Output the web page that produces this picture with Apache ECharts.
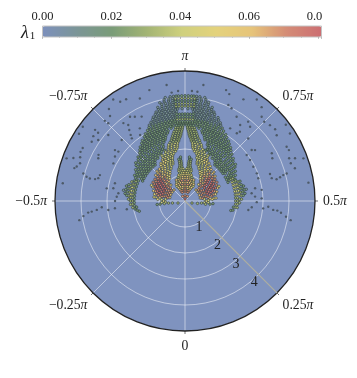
<!DOCTYPE html>
<html><head><meta charset="utf-8">
<style>html,body{margin:0;padding:0;background:#fff}#c{width:357px;height:378px}</style>
<script src="https://cdn.jsdelivr.net/npm/echarts@6/dist/echarts.min.js"></script>
</head><body><div id="c"></div>
<script>
// colour scale (lambda_1)
const scaleTicks = [0, 0.02, 0.04, 0.06, 0.08];
const scaleColors = ['#7c90bc','#7b9596','#7a9c78','#a3b474','#cfd07e','#e4d27c','#e6c47a','#d48c76','#cc6e72'];
const radiusRings = [1, 2, 3, 4];
const angleTicks = [0.25, 0.5, 0.75, 1, -0.75, -0.5, -0.25, 0];

// rows are [radius, lambda in 0.01, [|theta| in 0.01 pi]]
const wingLeft = [
 [.6,6,[57,63,69,75]],
 [.675,7,[56,61,66,71]],
 [.75,7,[58,63,68,73]],[.75,4,[48,53]],
 [.825,7,[57,62,67,72]],[.825,5,[50,77]],
 [.9,8,[60,64,68]],[.9,7,[56,72,76]],[.9,4,[48,52]],
 [.975,8,[58,62,66,70]],[.975,6,[54,74,78]],
 [1.05,8,[60,63.5,67,70.5]],[1.05,7,[56.5,74,77.5]],[1.05,5,[52,81]],
 [1.125,8,[61,64.5,68,71.5]],[1.125,7,[58,75]],[1.125,5,[54,79,82]],
 [1.2,8,[63,66,69,72]],[1.2,7,[60,75,78]],[1.2,5,[54,57,81,84]],
 [1.275,8,[64,67,70,73]],[1.275,6,[60,76,79]],[1.275,5,[82,85]],
 [1.35,7,[66,69,72,75]],[1.35,6,[63,78,81]],[1.35,4,[84,87]],
 [1.425,7,[67,70,73,76]],[1.425,5,[64,79,82]],[1.425,4,[85,88]],
 [1.5,6,[73,75.5,78]],[1.5,5,[80.5,83]],[1.5,4,[85.5,88,90]],
 [1.575,6,[76,78.5]],[1.575,5,[81,83.5]],[1.575,4,[86,88.5,90.5]],
 [1.65,5,[81,83,85]],[1.65,4,[87,89,90.5]],
 [1.725,5,[82,84,86]],[1.725,4,[88,90,91]]
];
const stripLeft = [
 [1.8,5,[84,86]],[1.8,4,[88,90,91.5]],
 [1.875,4,[85,87,89,91,92.5]],
 [1.95,4,[85,87,89,91,93,94]],
 [2.025,4,[88,90,92,94,95]],
 [2.1,4,[90,92,94,95.5]],
 [2.175,4,[90.5,92.3,94,95.7]],
 [2.25,4,[91,92.8,94.6,96]],
 [2.325,3,[92,93.7,95.3,96.7]],
 [2.4,3,[93,94.5,96,97]],
 [2.475,3,[93.5,95,96.3,97.6]],
 [2.55,3,[94,95.3,96.6,98]],
 [2.625,3,[94.5,95.8,97,98.2]],
 [2.7,3,[95,96.2,97.4,98.5]],
 [2.775,3,[95.7,96.7,97.8,98.8]],
 [2.85,3,[96,97,98,99]],
 [2.925,2,[96.5,97.5,98.5,99.3]],
 [3,2,[97,98,99,99.6]]
];
const curtainLeft = [
 [1.8,2,[64,66,68,70,72,74,76,78]],
 [1.875,2,[65,67,69,71,73,75,77,79]],
 [1.95,2,[66,68,70,72,74,76,78,80,82]],
 [2.025,2,[63,65,67,69,71,73,75,77,79,81,83,85]],
 [2.1,2,[62,64,66,68,70,72,74,76,78,80,82,84,86,88]],
 [2.175,2,[65,67,69,71,73,75,77,79,81,83,85,87]],
 [2.25,2,[68,70,72,74,76,78,80,82,84,86,88]],
 [2.325,2,[70,72,74,76,78,80,82,84,86,88]],
 [2.4,2,[71,73,75,77,79,81,83,85,87,89]],
 [2.475,2,[74,75.5,77,78.5,80,81.5,83,84.5,86,87.5,89,90]],
 [2.55,2,[76,77.5,79,80.5,82,83.5,85,86.5,88,89.5,90.5]],
 [2.625,2,[77,78.4,79.8,81.2,82.6,84,85.4,86.8,88.2,89.6,91]],
 [2.7,2,[78,79.4,80.8,82.2,83.6,85,86.4,87.8,89.2,90.6,92]],
 [2.775,2,[79.5,80.8,82,83.3,84.6,85.9,87.2,88.5,89.8,91,92.5]],
 [2.85,2,[80.5,82,83.2,84.4,85.6,86.8,88,89.2,90.6,92,94]],
 [2.925,2,[82,83.2,84.4,85.6,86.8,88,89.2,90.4,91.6,92.8,94,95]],
 [3,2,[83,84.3,85.6,86.9,88.2,89.5,90.8,92.1,93.4,94.7,96]],
 [3.075,2,[84.5,85.7,86.9,88.1,89.3,90.5,91.7,92.9,94.1,95.3,96]],
 [3.15,2,[85.5,87,88.3,89.6,90.9,92.2,93.5,94.8,96]],
 [3.225,1,[86,87.2,88.4,89.6,90.8,92,93.2,94.4,95.6,96.4]],
 [3.3,1,[87,88.2,89.4,90.6,91.8,93,94.2,95.4,96.5]],
 [3.375,1,[88,89.2,90.4,91.6,92.8,94,95.2,96.4]],
 [3.45,1,[88.5,89.7,91,92.2,93.4,94.6,95.8,97]],
 [3.525,1,[89.5,90.7,91.9,93.1,94.3,95.5,96.7]],
 [3.6,1,[90,91.2,92.4,93.6,94.8,96,97]],
 [3.675,1,[91,92.2,93.4,94.6,95.8,97]],
 [3.75,1,[91,92.4,93.8,95,96,97]],
 [3.825,1,[92.5,93.7,94.9,96.1]],
 [3.9,1,[92,93.4,94.8,96,97]],
 [3.975,1,[93.5,95,96.2]],
 [4.05,1,[94,95.5,96.5]]
];
const footLeft = [
 [1.8,2,[43]],[1.875,2,[44,46]],
 [1.95,2,[45,47,49,51,53,55,57,59,61,63]],
 [2.025,3,[46,48,50,52,54,56,58,60,62]],
 [2.1,4,[54,56,58]],[2.1,3,[48,50,52,60]],
 [2.175,3,[51,53,55,57,59,61]],
 [2.25,2,[53,55,57,59]],[2.325,2,[54,56,58]],[2.4,1,[55.5]]
];
const wingRight = [
 [.6,6,[56,62,69,75]],
 [.675,7,[55,61,67,72]],
 [.75,7,[57,63,68,74]],[.75,4,[47,53]],
 [.825,7,[57,62,67,73]],[.825,5,[50,78]],
 [.9,8,[60,64,69]],[.9,7,[55,73,77]],[.9,4,[48,51]],
 [.975,8,[58,62,66,71]],[.975,6,[53,75,79]],
 [1.05,8,[60,64,67,71]],[1.05,7,[56,74,78]],[1.05,5,[52,81]],
 [1.125,8,[61,65,68,72]],[1.125,7,[57,75]],[1.125,5,[53,79,82]],
 [1.2,8,[63,66,69,73]],[1.2,7,[60,76,79]],[1.2,5,[53,57,82,84]],
 [1.275,8,[63,67,70,74]],[1.275,6,[59,77,80]],[1.275,5,[83,85]],
 [1.35,7,[65,69,72,75]],[1.35,6,[62,78,81]],[1.35,4,[84,87]],
 [1.425,7,[67,70,73,77]],[1.425,5,[63,80,82]],[1.425,4,[85,88]],
 [1.5,6,[72,75,78]],[1.5,5,[80,83]],[1.5,4,[85.5,88,90]],
 [1.575,6,[75,78]],[1.575,5,[81,83]],[1.575,4,[86,88,90.5]],
 [1.65,5,[80,83,85]],[1.65,4,[87,89,90.5]],
 [1.725,5,[82,84,86]],[1.725,4,[88,90,91.5]]
];
const stripRight = [
 [1.8,5,[84,86]],[1.8,4,[88,90,91.5]],
 [1.875,4,[85,87,89,91,92.5]],
 [1.95,4,[85,87,89,91,92.5,94]],
 [2.025,4,[88,90,92,93.7,95]],
 [2.1,4,[89.5,92,94,95.5]],
 [2.175,4,[90.5,92,94,95.7]],
 [2.25,4,[91,93,94.6,96]],
 [2.325,3,[92,93.8,95.3,96.7]],
 [2.4,3,[92.5,94.5,96,97]],
 [2.475,3,[93.5,95,96.4,97.6]],
 [2.55,3,[94,95.4,96.6,98]],
 [2.625,3,[94.5,95.7,97,98.2]],
 [2.7,3,[95,96,97.4,98.5]],
 [2.775,3,[95.6,96.7,97.8,98.8]],
 [2.85,3,[96,97,98,99]],
 [2.925,2,[96.5,97.6,98.5,99.3]],
 [3,2,[97,98,99,99.6]]
];
const curtainRight = [
 [1.8,2,[63,65,67,70,72,74,76,78]],
 [1.875,2,[64,66,69,71,73,75,77,79]],
 [1.95,2,[65,67,70,72,74,76,78,80,82]],
 [2.025,2,[64,66,68,70,72,74,76,78,80,82,84,85]],
 [2.1,2,[63,65,67,69,71,73,75,77,79,81,83,85,87,88]],
 [2.175,2,[65,67,69,71,73,75,78,80,82,84,86,87]],
 [2.25,2,[67,69,71,73,75,77,79,81,83,85,87]],
 [2.325,2,[69,71,73,75,77,79,81,83,85,87,88]],
 [2.4,2,[70,72,74,76,78,80,82,84,86,88]],
 [2.475,2,[73,75,76.5,78,79.5,81,82.5,84,85.5,87,88.5,90]],
 [2.55,2,[75,77,78.5,80,81.5,83,84.5,86,87.5,89,90.5]],
 [2.625,2,[76.5,78,79.5,81,82.5,84,85.5,87,88.2,89.6,91]],
 [2.7,2,[77.5,79,80.5,82,83.5,85,86.5,88,89.5,91,92]],
 [2.775,2,[79,80.6,82,83.4,84.8,86,87.2,88.5,89.8,91,92.5]],
 [2.85,2,[80,81.5,83,84.5,85.6,87,88.2,89.4,90.6,92,94]],
 [2.925,2,[81.5,83,84.4,85.6,86.8,88,89.3,90.4,91.7,92.8,94,95]],
 [3,2,[82.5,84,85.5,87,88.2,89.6,90.8,92,93.4,94.8,96]],
 [3.075,2,[84,85.5,86.8,88,89.3,90.6,91.7,92.9,94.2,95.3,96]],
 [3.15,2,[85,86.5,88,89.5,91,92.2,93.4,94.8,96]],
 [3.225,1,[86,87,88.4,89.7,90.8,92,93.3,94.4,95.6,96.4]],
 [3.3,1,[86.5,88,89.4,90.6,92,93,94.2,95.4,96.5]],
 [3.375,1,[87.5,89,90.4,91.7,92.8,94,95.2,96.4]],
 [3.45,1,[88,89.5,91,92.2,93.5,94.6,95.8,97]],
 [3.525,1,[89.5,90.6,91.9,93.2,94.3,95.5,96.7]],
 [3.6,1,[90,91,92.4,93.8,94.8,96,97]],
 [3.675,1,[91,92,93.4,94.7,95.8,97]],
 [3.75,1,[91,92.5,93.8,95,96,97]],
 [3.825,1,[92.5,93.6,94.9,96.2]],
 [3.9,1,[92.5,93.5,94.8,96,97]],
 [3.975,1,[93.5,95,96.3]],
 [4.05,1,[94,95.5,96.5]]
];
const footRight = [
 [1.8,2,[43.5]],[1.875,2,[44,46]],
 [1.95,3,[46,48,50,52,54,64]],[1.95,4,[56,58,60,62]],
 [2.025,3,[46,48,50,52,62,64]],[2.025,4,[54,56,58,60]],
 [2.1,4,[54,56,58,60]],[2.1,3,[49,51,62]],
 [2.175,3,[51,53,55,57,59,61]],
 [2.25,2,[53,55,57,59,61]],[2.325,2,[54,56,58]],[2.4,1,[56]]
];
// central spire and top block: signed theta in 0.01 pi
const spire = [
 [.08,8,[100]],[.2,7,[100,85,-85]],
 [.35,7,[100,90,-90]],
 [.425,7,[100,92,-92,88,-88]],
 [.5,7,[100]],[.5,6,[93,-93]],[.5,5,[87,-87]],
 [.575,6,[100,95,-95,90,-90,85.5,-85.5]],
 [.65,7,[100,94.5,-94.5]],[.65,6,[89,-89]],[.65,4,[84,-84]],
 [.725,6,[100,96,-96,92,-92,88,-88,85,-85]],
 [.8,7,[100,95,-95]],[.8,6,[91,-91]],[.8,4,[87,-87]],
 [.875,6,[100,96.5,-96.5,93,-93,90,-90,87.5,-87.5]],
 [.95,6,[100,96.5,-96.5]],[.95,5,[93.5,-93.5]],[.95,3,[91,-91]],
 [1.025,5,[100,97.5,-97.5,95,-95,92.5,-92.5]],
 [1.1,5,[100,98,-98]],[1.1,4,[96,-96]],[1.1,3,[94,-94]],
 [1.175,4,[99,-99,97,-97,95,-95,93.5,-93.5]],
 [1.25,4,[98,-98,96,-96]],[1.25,3,[94,-94]],
 [1.325,3,[97,-97,95,-95]],
 [1.4,3,[97,-97,95.5,-95.5]],
 [1.475,3,[97,-97,95.5,-95.5]],
 [1.55,3,[96.8,-96.8,95.5,-95.5]],
 [1.625,2,[96.5,-96.5,95.3,-95.3]],
 [1.7,2,[96.8,-96.8]]
];
const tips = [[.28,3,[41,-41]]];
const topBlock = [
 [3.05,2,[100,99,-99,98,-98,97,-97]],[3.15,3,[100,99,-99,98,-98,97,-97]],
 [3.25,2,[100,99,-99,98,-98,97,-97]],[3.35,2,[100,99,-99,98,-98,97,-97]],
 [3.55,1,[99,-99,97.5,-97.5]],
 [3.65,3,[100,99,-99,98,-98,97,-97]],[3.75,3,[100,99,-99,98,-98,97,-97]],
 [3.85,2,[100,99,-99,98,-98,97,-97]],[3.95,3,[100,99,-99,98,-98,97,-97]],
 [4.05,2,[100,99,-99,98,-98,97.3,-97.3]]
];
const tailLeft = [[.49,3,[45]],[.64,3,[46]],[.8,3,[46]],[.97,2,[46]],[1.08,2,[46]]];
const tailRight = [[.49,3,[44]],[.64,3,[46]],[.8,3,[45]],[.97,2,[46]],[1.08,2,[47]]];
// isolated dots: [radius, theta in 0.01 pi]
const sparseLeft = [[4.59,-78],[4.78,-80.4],[4.52,-83.3],[4.31,-86.8],[4.48,-90.1],[4.36,-77],[4.36,-75],[4.2,-75.2],[4.86,-70],[4.83,-68],[4.41,-71.3],[4.32,-69.6],[4.25,-71.2],[4.08,-69.5],[4.25,-68],[4.43,-65.2],[4.44,-64],[4.84,-61],[4.6,-61.7],[4.37,-62.6],[4.29,-61],[4.37,-59.8],[4.44,-59.2],[3.77,-65.6],[3.72,-64.6],[4.75,-54.6],[4.05,-58.4],[3.9,-57.7],[3.76,-57.4],[3.56,-57.6],[3.45,-58.2],[3.42,-59.4],[3.33,-70],[3.19,-70.3],[3.19,-68],[3.11,-65.4],[3.05,-55.1],[2.8,-55.6],[2.78,-57.9],[2.58,-53.7],[2.63,-52],[2.69,-50],[3.95,-45.3],[4.13,-44.3],[3.75,-46.2],[3.61,-46.4],[3.41,-46.8],[3.21,-47.6],[2.97,-46.3],[2.71,-46.7],[2.26,-45.5],[3.65,-79.6],[3.47,-78.8],[3.29,-78.1],[3.16,-77.6],[3.87,-81.6],[3.77,-82.9],[3.65,-84.9],[3.29,-82.3],[3.07,-81],[3.38,-74.4],[3.82,-78.7],[3.89,-72.6],[4.56,-81.6],[4.52,-95],[4.2,-96.1],[4.24,-98]];
const sparseRight = [[4.55,88.7],[4.45,87.5],[4.51,83.4],[4.78,80.4],[4.05,86.5],[3.99,85.2],[3.8,82.5],[3.9,78.6],[3.8,77.1],[4.66,78.2],[4.38,76.5],[4.31,75],[4.38,73.2],[4.43,71.4],[4.34,69.8],[4.86,70.6],[4.8,68.2],[4.43,65.6],[4.45,64.5],[3.81,66],[3.74,64.5],[4.84,61],[4.54,61.8],[4.33,62.4],[4.32,60.9],[4.41,59.2],[4.8,54.7],[3.43,59.8],[3.45,58.2],[3.62,57.4],[3.77,57.8],[3.91,58.2],[4.05,58.4],[3.23,70.8],[3.33,70],[2.96,70.4],[2.96,67.9],[2.94,64.8],[2.96,61.7],[2.95,59.6],[3.42,74.8],[3.61,80],[3.4,78.7],[3.28,79.2],[3.29,82.3],[2.74,55.7],[2.58,53.7],[2.7,52],[2.98,54.6],[2.95,51.1],[2.76,49.5],[3.02,47],[3.21,47.8],[3.41,46.8],[3.57,46.7],[3.72,46.1],[3.93,45.1],[4.13,44.3],[2.46,45.5],[2.58,47],[4.52,95],[4.24,98],[4.23,96.4]];
const sparseLambda = 0.008;

const wrap = t => { const v = t / 100; return v < 0.25 ? v + 2 : v; };
const densePoints = [], sparsePoints = [];
const addRows = (rows, sign) => rows.forEach(([r, l, ts]) => ts.forEach(t => densePoints.push([r, wrap(sign * t), l / 100])));
const addDots = dots => dots.forEach(([r, t]) => sparsePoints.push([r, wrap(t), sparseLambda]));
addDots(sparseLeft); addDots(sparseRight);
[curtainLeft, footLeft, stripLeft, wingLeft, tailLeft].forEach(g => addRows(g, -1));
[curtainRight, footRight, stripRight, wingRight, tailRight].forEach(g => addRows(g, 1));
addRows(topBlock, 1); addRows(spire, 1); addRows(tips, 1);

const serif = '"Liberation Serif", "Times New Roman", serif';
const ringLine = 'rgba(255,255,255,0.5)';
const angleLabel = raw => {
  const v = parseFloat(raw.toFixed(2));
  const a = v > 1 ? v - 2 : v;
  if (a === 0) return '{n|0}';
  if (a === 1) return '{p|π}';
  return '{n|' + (a < 0 ? '\u2212' : '') + Math.abs(a) + '}{p|π}';
};
const chart = echarts.init(document.getElementById('c'), null, {renderer: 'canvas'});
chart.setOption({
  animation: false,
  backgroundColor: '#fff',
  graphic: [{type: 'circle', z: -10, silent: true, shape: {cx: 185, cy: 201, r: 130}, style: {fill: '#7f93bf'}}],
  title: {text: '{a|λ}{b|1}', left: 21, top: 24, padding: 0, textStyle: {fontWeight: 'normal', rich: {
    a: {fontFamily: serif, fontStyle: 'italic', fontWeight: 'normal', fontSize: 18, color: '#222'},
    b: {fontFamily: serif, fontWeight: 'normal', fontSize: 11, color: '#222', verticalAlign: 'bottom', padding: [7,0,0,1]}}}},
  grid: {left: 42.5, width: 279, top: 26, height: 11, show: true, borderColor: '#c4c4c4', borderWidth: 1, backgroundColor: 'transparent', z: 6},
  xAxis: {type: 'value', position: 'top', min: 0, max: 0.081, interval: 0.02, z: 6,
    axisLine: {show: false},
    axisTick: {inside: true, length: 2, lineStyle: {color: '#888', width: 0.5}},
    minorTick: {show: true, splitNumber: 4, length: 1, lineStyle: {color: '#aaa', width: 0.5}},
    splitLine: {show: false},
    axisLabel: {margin: 3, hideOverlap: false, fontFamily: serif, fontSize: 12.5, color: '#222',
      formatter: v => Math.abs(v - 0.08) < 1e-6 ? '{c|0.0}' : (v > 0.0805 ? '' : v.toFixed(2)),
      rich: {c: {fontFamily: serif, fontSize: 12.5, color: '#222', padding: [0,7,0,0]}}}},
  yAxis: {type: 'value', show: false, min: 0, max: 1},
  visualMap: {type: 'continuous', show: true, orient: 'horizontal', left: 42.5, top: 26, itemWidth: 11, itemHeight: 279,
    padding: 0, min: 0, max: 0.081, dimension: 2, seriesIndex: 0, calculable: false, hoverLink: false, showLabel: false,
    text: null, inRange: {color: scaleColors}},
  polar: {center: [185, 201], radius: 130},
  angleAxis: {type: 'value', startAngle: -45, clockwise: false, min: 0.25, max: 2.25, interval: 0.25,
    axisLine: {lineStyle: {color: '#222', width: 1.3}},
    axisTick: {show: true, length: 3, lineStyle: {color: '#333', width: 0.7}},
    splitLine: {show: true, lineStyle: {color: ['rgba(0,0,0,0)', ringLine, ringLine, ringLine, ringLine, ringLine, ringLine, ringLine], width: 1}},
    axisLabel: {margin: 8, formatter: angleLabel, rich: {
      n: {fontFamily: serif, fontSize: 13.7, color: '#222'},
      p: {fontFamily: serif, fontStyle: 'italic', fontSize: 13.7, color: '#222'}}}},
  radiusAxis: {type: 'value', min: 0, max: 5, interval: 1, z: 1,
    axisLine: {show: true, lineStyle: {color: '#aeae9f', width: 1.2}},
    axisTick: {show: false},
    splitLine: {show: true, lineStyle: {color: [ringLine, ringLine, ringLine, ringLine, ringLine, 'rgba(0,0,0,0)'], width: 1}},
    axisLabel: {showMinLabel: false, showMaxLabel: false, margin: -11, rotate: 0, fontFamily: serif, fontSize: 14, color: '#222'}},
  series: [
   {type: 'scatter', coordinateSystem: 'polar', data: densePoints, symbol: 'circle', symbolSize: 2.5, silent: true,
    encode: {radius: 0, angle: 1},
    itemStyle: {borderColor: 'rgba(40,50,50,0.8)', borderWidth: 0.7, opacity: 1}},
   {type: 'scatter', coordinateSystem: 'polar', data: sparsePoints, symbol: 'circle', symbolSize: 2.4, silent: true,
    encode: {radius: 0, angle: 1},
    itemStyle: {color: '#4d5a68', opacity: 1}}
  ]
});
</script></body></html>
